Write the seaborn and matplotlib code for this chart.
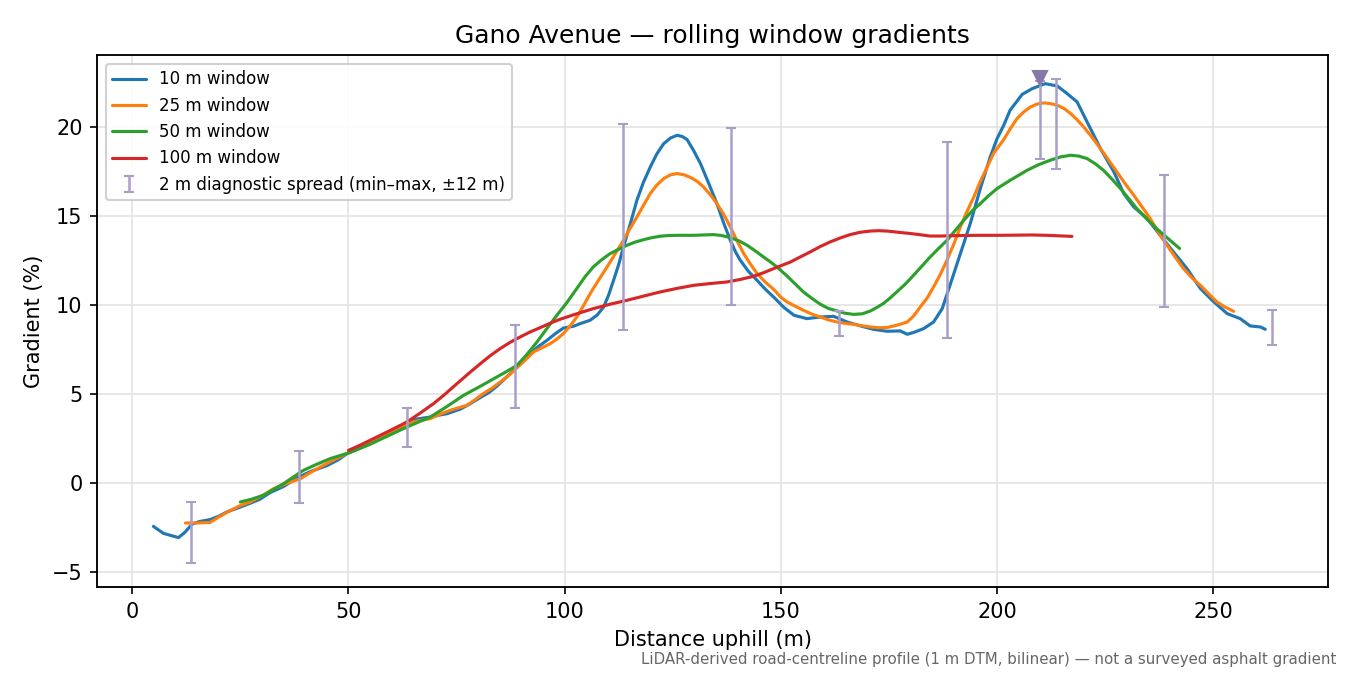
"""Rolling-window gradient profile for Gano Avenue."""

import matplotlib

matplotlib.use("Agg")
import matplotlib.pyplot as plt
import numpy as np
import pandas as pd
import seaborn as sns

# 10 m window
dist_10 = [4.9, 7.2, 9.2, 10.7, 12.2, 13.8, 15.5, 18.0, 20.0, 21.9, 24.5, 27.3, 29.5, 31.9, 35.0,
           38.1, 41.2, 45.0, 47.5, 49.6, 52.5, 55.0, 57.5, 59.7, 61.5, 63.5, 66.0, 68.9, 70.8,
           72.8, 75.9, 78.0, 80.5, 82.5, 84.3, 86.5, 89.0, 92.0, 94.0, 95.9, 97.8, 99.7, 102.0,
           103.6, 105.9, 107.5, 109.0, 110.2, 111.3, 112.5, 113.6, 115.2, 116.7, 118.2, 119.8,
           121.3, 122.9, 124.5, 126.0, 127.2, 128.3, 129.8, 131.4, 133.3, 135.2, 136.8, 138.3,
           139.5, 140.6, 142.5, 144.5, 146.4, 148.3, 150.6, 153.0, 156.0, 159.1, 162.2, 165.3,
           168.4, 171.4, 174.5, 177.6, 179.2, 181.0, 183.0, 185.3, 187.3, 189.2, 191.5, 193.8,
           196.1, 198.4, 200.0, 201.5, 203.0, 205.8, 208.1, 209.5, 211.1, 213.9, 216.2, 218.5,
           220.8, 223.9, 227.0, 229.3, 231.6, 234.7, 237.7, 240.8, 243.9, 247.0, 250.1, 253.2,
           256.2, 258.5, 260.9, 262.0]
grad_10 = [-2.42, -2.81, -2.95, -3.05, -2.75, -2.3, -2.15, -2.04, -1.85, -1.61, -1.38, -1.12, -0.9,
           -0.52, -0.18, 0.3, 0.66, 0.99, 1.3, 1.65, 1.95, 2.25, 2.52, 2.79, 3.05, 3.44, 3.62,
           3.72, 3.82, 3.91, 4.17, 4.45, 4.82, 5.1, 5.45, 5.95, 6.53, 7.29, 7.7, 8.03, 8.4, 8.72,
           8.82, 8.97, 9.16, 9.45, 9.9, 10.6, 11.4, 12.3, 13.28, 14.6, 15.9, 16.9, 17.77, 18.5,
           19.08, 19.4, 19.55, 19.48, 19.31, 18.7, 17.96, 16.85, 15.71, 14.6, 13.65, 13.0, 12.53,
           11.9, 11.4, 10.9, 10.47, 9.9, 9.44, 9.25, 9.34, 9.38, 9.06, 8.84, 8.65, 8.54, 8.56,
           8.37, 8.5, 8.69, 9.06, 9.81, 11.2, 12.9, 14.6, 16.55, 18.33, 19.37, 20.1, 20.96, 21.85,
           22.17, 22.3, 22.45, 22.32, 21.89, 21.42, 20.3, 18.8, 17.49, 16.27, 15.52, 14.87,
           13.93, 12.99, 12.06, 10.94, 10.19, 9.53, 9.25, 8.84, 8.78, 8.65]

# 25 m window
dist_25 = [12.3, 15.0, 18.0, 20.0, 22.7, 25.0, 27.3, 30.0, 32.7, 35.8, 38.9, 41.2, 43.5, 46.5, 49.6,
           52.5, 55.0, 58.0, 60.5, 63.5, 66.0, 68.9, 71.2, 73.5, 77.4, 79.3, 81.2, 83.2, 85.1,
           87.0, 89.0, 91.0, 92.8, 94.8, 96.7, 98.2, 99.7, 101.3, 102.8, 104.4, 105.9, 107.8,
           109.8, 111.7, 113.6, 115.2, 116.7, 118.3, 119.8, 121.3, 122.9, 124.5, 126.0, 127.6,
           129.2, 130.7, 132.1, 133.7, 135.2, 136.8, 138.3, 139.8, 141.4, 143.0, 144.5, 146.4,
           148.3, 150.0, 151.4, 153.3, 155.2, 157.2, 159.1, 161.0, 163.0, 164.9, 166.8, 168.8,
           170.7, 172.6, 174.5, 176.8, 179.2, 180.7, 182.2, 183.8, 185.3, 186.9, 188.4, 190.0,
           191.5, 193.0, 194.6, 196.1, 197.7, 199.2, 201.5, 203.0, 204.6, 206.1, 207.7, 209.2,
           210.8, 212.3, 213.9, 215.5, 217.0, 218.5, 220.0, 221.9, 223.9, 225.8, 227.7, 229.6,
           231.6, 233.5, 235.4, 237.3, 239.3, 241.2, 243.1, 245.0, 247.0, 248.9, 250.8, 252.7,
           254.7]
grad_25 = [-2.23, -2.23, -2.2, -1.9, -1.52, -1.25, -1.05, -0.7, -0.3, 0.0, 0.26, 0.6, 0.92, 1.3, 1.67,
           1.98, 2.25, 2.6, 2.98, 3.35, 3.5, 3.63, 3.88, 4.1, 4.38, 4.7, 5.04, 5.35, 5.69, 6.05,
           6.5, 6.95, 7.38, 7.62, 7.85, 8.1, 8.41, 8.85, 9.34, 10.0, 10.66, 11.4, 12.15, 12.9,
           13.65, 14.35, 14.96, 15.65, 16.28, 16.75, 17.12, 17.33, 17.4, 17.33, 17.17, 16.95,
           16.65, 16.2, 15.71, 15.1, 14.4, 13.65, 12.9, 12.3, 11.78, 11.3, 10.9, 10.45, 10.19,
           9.95, 9.72, 9.5, 9.34, 9.18, 9.06, 8.98, 8.93, 8.85, 8.78, 8.74, 8.75, 8.88, 9.06,
           9.4, 9.9, 10.4, 11.03, 11.75, 12.53, 13.45, 14.4, 15.25, 16.08, 16.95, 17.77, 18.55,
           19.3, 19.9, 20.49, 20.85, 21.14, 21.3, 21.37, 21.33, 21.24, 21.05, 20.77, 20.42,
           20.02, 19.45, 18.8, 18.15, 17.49, 16.83, 16.18, 15.53, 14.87, 14.1, 13.37, 12.7,
           12.06, 11.55, 11.12, 10.65, 10.19, 9.9, 9.66]

# 50 m window
dist_50 = [25.0, 27.5, 30.4, 32.5, 35.0, 37.3, 39.6, 42.5, 45.8, 49.6, 52.0, 55.0, 59.0, 63.5, 66.0,
           68.9, 72.5, 76.6, 80.5, 84.3, 86.5, 89.0, 91.3, 93.6, 95.9, 98.2, 100.5, 102.8, 104.7,
           106.6, 108.5, 110.5, 112.5, 114.4, 116.3, 118.3, 120.2, 122.1, 124.0, 126.0, 129.8,
           132.0, 134.4, 136.3, 138.3, 140.3, 142.2, 144.1, 146.0, 147.5, 149.1, 151.4, 153.3,
           155.2, 157.2, 159.1, 161.0, 163.0, 164.9, 166.8, 168.8, 170.7, 172.2, 173.7, 175.3,
           176.8, 178.8, 180.7, 182.6, 184.5, 186.5, 188.4, 190.3, 192.3, 194.2, 196.1, 198.0,
           200.0, 203.0, 206.9, 209.6, 212.3, 214.6, 217.0, 218.9, 220.8, 222.7, 224.6, 226.5,
           228.5, 230.4, 232.3, 234.6, 236.9, 239.5, 242.2]
grad_50 = [-1.05, -0.9, -0.67, -0.37, -0.02, 0.36, 0.73, 1.05, 1.39, 1.67, 1.9, 2.19, 2.65, 3.16,
           3.42, 3.72, 4.27, 4.94, 5.45, 5.97, 6.27, 6.63, 7.25, 7.94, 8.7, 9.44, 10.15, 10.94,
           11.6, 12.15, 12.55, 12.9, 13.15, 13.37, 13.55, 13.69, 13.8, 13.88, 13.92, 13.93,
           13.93, 13.95, 13.97, 13.92, 13.8, 13.62, 13.37, 13.05, 12.71, 12.45, 12.15, 11.65,
           11.2, 10.75, 10.38, 10.06, 9.82, 9.68, 9.55, 9.49, 9.52, 9.68, 9.88, 10.1, 10.42,
           10.75, 11.2, 11.69, 12.2, 12.71, 13.2, 13.65, 14.2, 14.78, 15.3, 15.71, 16.15, 16.56,
           17.02, 17.58, 17.9, 18.15, 18.33, 18.43, 18.38, 18.24, 17.95, 17.58, 17.1, 16.56,
           16.0, 15.43, 14.85, 14.3, 13.75, 13.19]

# 100 m window
dist_100 = [50.0, 52.8, 55.8, 59.5, 63.5, 66.5, 69.7, 72.4, 75.1, 77.8, 80.5, 82.8, 85.1, 87.4, 89.7,
            92.0, 94.4, 96.7, 99.0, 102.5, 106.6, 110.5, 114.4, 118.3, 122.1, 126.0, 129.8,
            133.6, 137.5, 140.6, 143.7, 146.0, 148.3, 150.3, 152.2, 154.5, 156.8, 159.1, 161.4,
            163.7, 166.0, 168.3, 170.7, 172.6, 174.5, 177.2, 180.0, 182.3, 184.5, 187.2, 190.0,
            195.3, 200.0, 204.6, 208.0, 211.5, 214.5, 217.3]
grad_100 = [1.85, 2.15, 2.51, 2.95, 3.44, 3.93, 4.48, 5.02, 5.6, 6.17, 6.72, 7.17, 7.57, 7.92, 8.22,
            8.5, 8.75, 9.0, 9.22, 9.5, 9.81, 10.06, 10.28, 10.52, 10.75, 10.95, 11.12, 11.22,
            11.31, 11.45, 11.63, 11.83, 12.06, 12.25, 12.43, 12.72, 13.0, 13.3, 13.56, 13.78,
            13.97, 14.1, 14.17, 14.19, 14.17, 14.1, 14.03, 13.96, 13.89, 13.89, 13.91, 13.93,
            13.93, 13.94, 13.95, 13.93, 13.9, 13.87]

# 2 m diagnostic spread (min / max within +-12 m)
spread_dist = [13.5, 38.5, 63.5, 88.5, 113.5, 138.5, 163.5, 188.5, 210.0, 213.5, 238.5, 263.5]
spread_min = [-4.48, -1.1, 2.04, 4.23, 8.61, 10.02, 8.26, 8.15, 18.2, 17.64, 9.9, 7.77]
spread_max = [-1.05, 1.81, 4.23, 8.89, 20.17, 19.96, 9.66, 19.16, 22.6, 22.7, 17.3, 9.72]

peak_dist = 210.0
peak_grad = 22.75

windows = ["10 m window", "25 m window", "50 m window", "100 m window"]
series = [(dist_10, grad_10), (dist_25, grad_25), (dist_50, grad_50), (dist_100, grad_100)]
colors = ["#1f77b4", "#ff7f0e", "#2ca02c", "#d62728"]
SPREAD_COLOR = "#a99ec6"

sns.set_style("ticks", {
    "text.color": "black",
    "axes.labelcolor": "black",
    "axes.edgecolor": "black",
    "xtick.color": "black",
    "ytick.color": "black",
})
plt.rcParams["font.family"] = ["DejaVu Sans"]

fig, ax = plt.subplots(figsize=(9, 4.5), dpi=150)

for label, (xs, ys), color in zip(windows, series, colors):
    frame = pd.DataFrame({"dist": xs, "grad": ys})
    sns.lineplot(data=frame, x="dist", y="grad", ax=ax, color=color, linewidth=1.5,
                 label=label, estimator=None, sort=False)

lo = np.array(spread_min)
hi = np.array(spread_max)
mid = (lo + hi) / 2
ax.errorbar(spread_dist, mid, yerr=[mid - lo, hi - mid], fmt="none", ecolor=SPREAD_COLOR,
            elinewidth=1.2, capsize=2.5, capthick=1.0,
            label="2 m diagnostic spread (min\u2013max, \u00b112 m)")
ax.plot([peak_dist], [peak_grad], marker="v", markersize=7, color="#8878a8",
        linestyle="none", zorder=5)

ax.set_xlim(-8.1, 276.6)
ax.set_ylim(-5.84, 24.04)
ax.set_xticks([0, 50, 100, 150, 200, 250])
ax.set_yticks([-5, 0, 5, 10, 15, 20])
ax.grid(True, color="#e3e3e3", linewidth=0.8)
ax.set_axisbelow(True)
for spine in ax.spines.values():
    spine.set_visible(True)
    spine.set_linewidth(0.9)

ax.set_title("Gano Avenue \u2014 rolling window gradients", fontsize=12)
ax.set_xlabel("Distance uphill (m)", fontsize=10)
ax.set_ylabel("Gradient (%)", fontsize=10)
ax.tick_params(labelsize=10)
ax.legend(loc="upper left", fontsize=8, framealpha=0.9)

fig.subplots_adjust(left=0.072, right=0.984, top=0.918, bottom=0.13)
fig.text(0.99, 0.012,
         "LiDAR-derived road-centreline profile (1 m DTM, bilinear) \u2014 not a surveyed asphalt gradient",
         ha="right", va="bottom", fontsize=7.2, color="#666666")

fig.savefig("out.png", dpi=150)
plt.close(fig)
